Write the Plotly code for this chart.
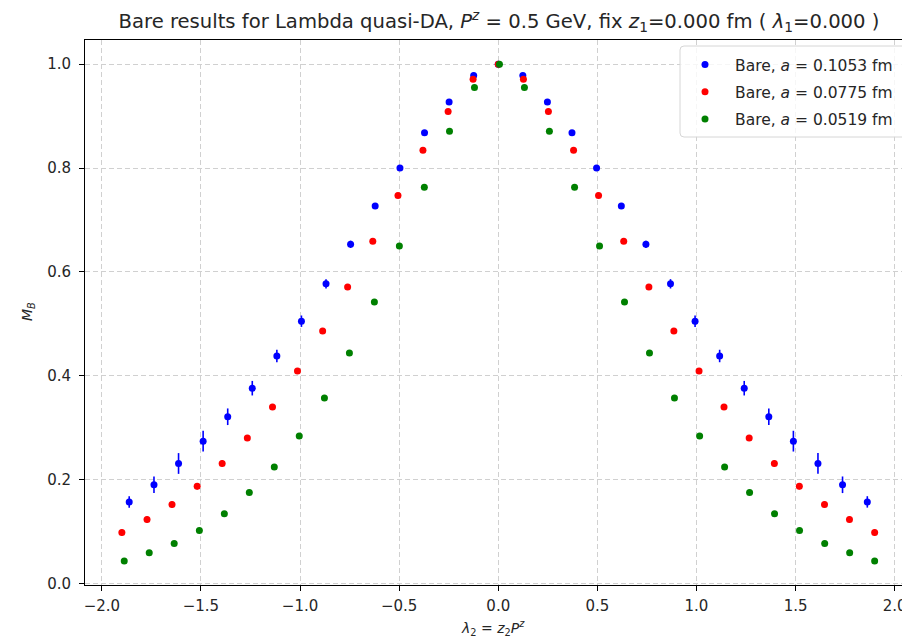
import plotly.graph_objects as go

# ---- data ----
x_a1053 = [-1.862, -1.737, -1.613, -1.489, -1.365, -1.241, -1.117, -0.993, -0.869, -0.745, -0.621, -0.496, -0.372, -0.248, -0.124,
           0.0,
           0.124, 0.248, 0.372, 0.496, 0.621, 0.745, 0.869, 0.993, 1.117, 1.241, 1.365, 1.489, 1.613, 1.737, 1.862]
y_a1053 = [0.157, 0.190, 0.231, 0.274, 0.321, 0.376, 0.438, 0.505, 0.577, 0.653, 0.727, 0.800, 0.868, 0.927, 0.978,
           1.000,
           0.978, 0.927, 0.868, 0.800, 0.727, 0.653, 0.577, 0.505, 0.438, 0.376, 0.321, 0.274, 0.231, 0.190, 0.157]
e_a1053 = [0.011, 0.016, 0.020, 0.020, 0.016, 0.014, 0.012, 0.011, 0.009, 0.007, 0.005, 0.004, 0.003, 0.003, 0.002,
           0.0,
           0.002, 0.003, 0.003, 0.004, 0.005, 0.007, 0.009, 0.011, 0.012, 0.014, 0.016, 0.020, 0.020, 0.016, 0.011]

x_a0775 = [-1.899, -1.772, -1.646, -1.519, -1.393, -1.266, -1.139, -1.013, -0.886, -0.760, -0.633, -0.506, -0.380, -0.253, -0.127,
           0.0,
           0.127, 0.253, 0.380, 0.506, 0.633, 0.760, 0.886, 1.013, 1.139, 1.266, 1.393, 1.519, 1.646, 1.772, 1.899]
y_a0775 = [0.098, 0.123, 0.152, 0.187, 0.231, 0.280, 0.340, 0.409, 0.486, 0.571, 0.659, 0.747, 0.834, 0.909, 0.971,
           1.000,
           0.971, 0.909, 0.834, 0.747, 0.659, 0.571, 0.486, 0.409, 0.340, 0.280, 0.231, 0.187, 0.152, 0.123, 0.098]
e_a0775 = [0.006, 0.006, 0.006, 0.006, 0.006, 0.005, 0.005, 0.005, 0.004, 0.004, 0.003, 0.003, 0.002, 0.002, 0.001,
           0.0,
           0.001, 0.002, 0.002, 0.003, 0.003, 0.004, 0.004, 0.005, 0.005, 0.005, 0.006, 0.006, 0.006, 0.006, 0.006]

x_a0519 = [-1.887, -1.761, -1.635, -1.508, -1.382, -1.256, -1.130, -1.004, -0.877, -0.751, -0.625, -0.499, -0.373, -0.246, -0.120,
           0.006,
           0.132, 0.258, 0.385, 0.511, 0.637, 0.763, 0.889, 1.016, 1.142, 1.268, 1.394, 1.520, 1.647, 1.773, 1.899]
y_a0519 = [0.043, 0.059, 0.077, 0.102, 0.134, 0.175, 0.224, 0.284, 0.357, 0.444, 0.542, 0.650, 0.763, 0.871, 0.955,
           1.000,
           0.955, 0.871, 0.763, 0.650, 0.542, 0.444, 0.357, 0.284, 0.224, 0.175, 0.134, 0.102, 0.077, 0.059, 0.043]
e_a0519 = [0.002, 0.002, 0.002, 0.002, 0.002, 0.002, 0.002, 0.002, 0.002, 0.002, 0.002, 0.002, 0.001, 0.001, 0.001,
           0.0,
           0.001, 0.001, 0.001, 0.002, 0.002, 0.002, 0.002, 0.002, 0.002, 0.002, 0.002, 0.002, 0.002, 0.002, 0.002]

series_labels = ["Bare, <i>a</i> = 0.1053 fm", "Bare, <i>a</i> = 0.0775 fm", "Bare, <i>a</i> = 0.0519 fm"]
series_colors = ["#0000ff", "#ff0000", "#008000"]

x_ticks = [-2.0, -1.5, -1.0, -0.5, 0.0, 0.5, 1.0, 1.5, 2.0]
y_ticks = [0.0, 0.2, 0.4, 0.6, 0.8, 1.0]

FONT = "DejaVu Sans"

fig = go.Figure()
for i, (xs, ys, es) in enumerate([(x_a1053, y_a1053, e_a1053),
                                  (x_a0775, y_a0775, e_a0775),
                                  (x_a0519, y_a0519, e_a0519)]):
    fig.add_trace(go.Scatter(
        x=xs, y=ys, mode="markers", name=series_labels[i],
        legendgroup=f"g{i}",
        marker=dict(color=series_colors[i], size=7),
        error_y=dict(type="data", array=es, visible=True, color=series_colors[i],
                     thickness=1.6, width=0),
    ))

# plot-area geometry (pixels)
W, H = 902, 640
L, R, T, B = 85, 0, 40, 55
PW, PH = W - L - R, H - T - B

def px_x(p):
    return (p - L) / PW

def px_y(p):
    return (H - B - p) / PH

# legend frame (matplotlib style), right side cut by figure edge
x0, x1 = px_x(680), px_x(915)
y0, y1 = px_y(137), px_y(46)
rx, ry = 4 / PW, 4 / PH
path = (f"M {x0+rx},{y1} L {x1},{y1} L {x1},{y0} L {x0+rx},{y0} "
        f"Q {x0},{y0} {x0},{y0+ry} L {x0},{y1-ry} Q {x0},{y1} {x0+rx},{y1} Z")
fig.add_shape(type="path", path=path, xref="paper", yref="paper",
              line=dict(color="#d6d6d6", width=1), fillcolor="rgba(255,255,255,0.8)",
              layer="above")

axis_common = dict(
    showline=True, linecolor="black", linewidth=1,
    ticks="outside", ticklen=5, tickwidth=1, tickcolor="black",
    showgrid=True, gridcolor="#d0d0d0", gridwidth=1, griddash="5px,3px",
    zeroline=False, tickfont=dict(family=FONT, size=15, color="#262626"),
    tickformat=".1f", automargin=False,
)

fig.update_layout(
    width=W, height=H,
    margin=dict(l=L, r=R, t=T, b=B, pad=0, autoexpand=False),
    plot_bgcolor="white", paper_bgcolor="white",
    font=dict(family=FONT, color="black"),
    title=dict(
        text=("Bare results for Lambda quasi-DA, <i>P</i><sup><i>z</i></sup> = 0.5 GeV, "
              "fix <i>z</i><sub>1</sub>=0.000 fm ( <i>λ</i><sub>1</sub>=0.000 )"),
        font=dict(family=FONT, size=19.6, color="#262626"),
        xref="paper", x=px_x(499), xanchor="center",
        yref="container", y=1 - 21 / H, yanchor="middle",
    ),
    xaxis=dict(range=[-2.085, 2.037], tickvals=x_ticks, mirror=True,
               ticklabeloverflow="allow", ticklabelstandoff=2, **axis_common),
    yaxis=dict(range=[-0.003, 1.0465], tickvals=y_ticks, mirror=False,
               ticklabelstandoff=5, **axis_common),
    showlegend=True,
    legend=dict(
        x=px_x(675), y=px_y(48), xanchor="left", yanchor="top",
        bgcolor="rgba(0,0,0,0)", borderwidth=0,
        font=dict(family=FONT, size=15.5, color="#262626"),
        tracegroupgap=4, itemwidth=50,
    ),
    annotations=[
        dict(text="<i>λ</i><sub>2</sub> = <i>z</i><sub>2</sub><i>P</i><sup><i>z</i></sup>",
             xref="paper", yref="paper", x=px_x(493), y=px_y(628),
             xanchor="center", yanchor="middle", showarrow=False,
             font=dict(family=FONT, size=14, color="#262626")),
        dict(text="<i>M</i><sub><i>B</i></sub>",
             xref="paper", yref="paper", x=px_x(28), y=px_y(312),
             xanchor="center", yanchor="middle", showarrow=False, textangle=-90,
             font=dict(family=FONT, size=14, color="#262626")),
    ],
)

fig.write_html("out.html")
